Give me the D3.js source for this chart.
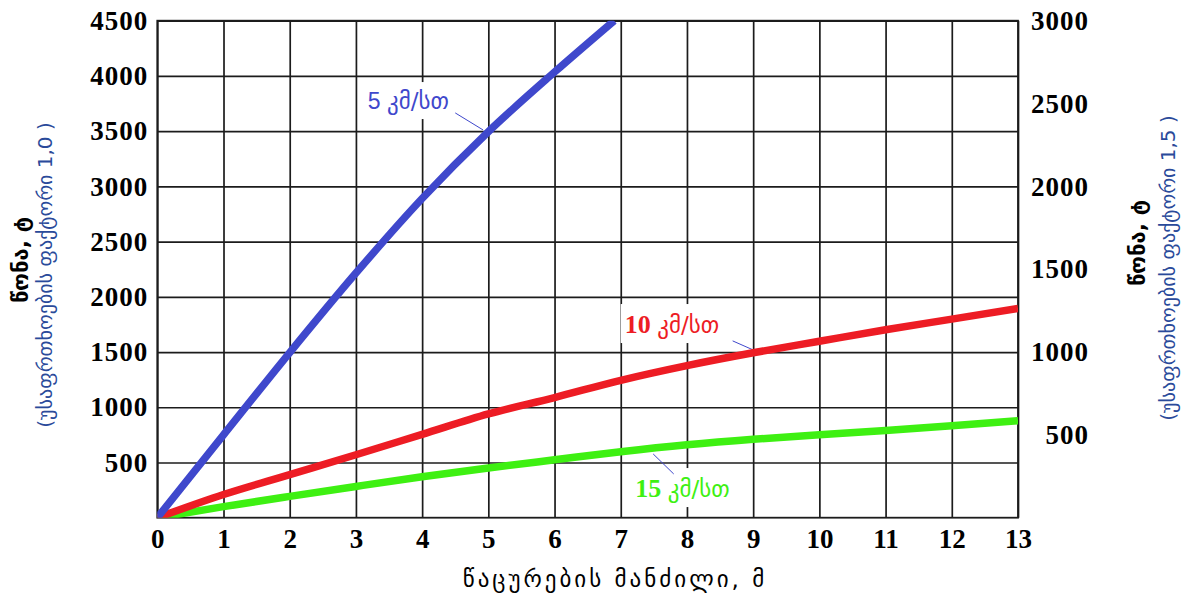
<!DOCTYPE html>
<html>
<head>
<meta charset="utf-8">
<script src="https://cdn.jsdelivr.net/npm/d3@7"></script>
<style>
  html, body { margin: 0; padding: 0; background: #fff; }
  svg { display: block; }
</style>
</head>
<body>
<svg id="chart" width="1183" height="595"></svg>
<script>
// ---------------- DATA ----------------
const distance = [0, 1, 2, 3, 4, 5, 6, 7, 8, 9, 10, 11, 12, 13];            // m
const blueDistance = [0, 1, 2, 3, 4, 5, 6, 6.9];
const weight5kmh  = [0, 750, 1495, 2215, 2890, 3495, 4035, 4500];          // t (factor 1.0)
const weight10kmh = [0, 210, 390, 570, 755, 940, 1088, 1244, 1377, 1493, 1598, 1702, 1798, 1894];
const weight15kmh = [0, 100, 193, 283, 370, 450, 524, 597, 660, 710, 750, 790, 832, 878];

const xTicks = [0, 1, 2, 3, 4, 5, 6, 7, 8, 9, 10, 11, 12, 13];
const leftTicks = [500, 1000, 1500, 2000, 2500, 3000, 3500, 4000, 4500];
const rightTicks = [500, 1000, 1500, 2000, 2500, 3000];

const seriesNames = ["5 კმ/სთ", "10 კმ/სთ", "15 კმ/სთ"];
const seriesColors = ["#3f48cc", "#ed1c24", "#3ef012"];
// label anchor (data coords) and leader line (data coords)
const labelPos = [[3.18, 3700], [7.06, 1672], [7.22, 187]];
const leaderLines = [[[4.50, 3665], [4.92, 3511]], [[8.69, 1601], [9.0, 1519]], [[7.49, 577], [7.80, 396]]];

const xTitle = "წაცურების მანძილი, მ";
const yTitle = "წონა, ტ";
const yLeftSub = "(უსაფრთხოების ფაქტორი 1,0 )";
const yRightSub = "(უსაფრთხოების ფაქტორი 1,5 )";

// ---------------- LAYOUT ----------------
const svg = d3.select("#chart");
const L = 157.3, R = 1018, T = 20.7, B = 517.7;
const x = d3.scaleLinear().domain([0, 13]).range([L, R]);
const y = d3.scaleLinear().domain([0, 4500]).range([B, T]);
const yR = d3.scaleLinear().domain([0, 3000]).range([B, T]);

const gridColor = "#1c1c1c";
const tickFont = "'Liberation Serif', 'Times New Roman', serif";
const fmt = d3.format("d");

// vertical grid + bottom axis
const gx = svg.append("g").attr("transform", `translate(0,${B})`)
  .call(d3.axisBottom(x).tickValues(xTicks).tickFormat(fmt).tickSize(-(B - T)).tickPadding(11).tickSizeOuter(0));
gx.select(".domain").remove();
gx.selectAll(".tick line").attr("stroke", gridColor).attr("stroke-width", 1.7);
gx.selectAll(".tick text").attr("font-family", tickFont).attr("font-weight", "bold")
  .attr("font-size", 27).attr("fill", "#000");

// horizontal grid + left axis
const gy = svg.append("g").attr("transform", `translate(${L},0)`)
  .call(d3.axisLeft(y).tickValues(leftTicks).tickFormat(fmt).tickSize(-(R - L)).tickPadding(9).tickSizeOuter(0));
gy.select(".domain").remove();
gy.selectAll(".tick line").attr("stroke", gridColor).attr("stroke-width", 1.7);
gy.selectAll(".tick text").attr("font-family", tickFont).attr("font-weight", "bold")
  .attr("font-size", 27).attr("letter-spacing", 1).attr("fill", "#000");

// right axis (labels only)
const gr = svg.append("g").attr("transform", `translate(${R},0)`)
  .call(d3.axisRight(yR).tickValues(rightTicks).tickFormat(fmt).tickSize(0).tickPadding(71).tickSizeOuter(0));
gr.select(".domain").remove();
gr.selectAll(".tick text").attr("text-anchor", "end").attr("font-family", tickFont).attr("font-weight", "bold")
  .attr("font-size", 27).attr("letter-spacing", 1).attr("fill", "#000");

// frame
svg.append("rect").attr("x", L).attr("y", T).attr("width", R - L).attr("height", B - T)
  .attr("fill", "none").attr("stroke", gridColor).attr("stroke-width", 1.8);

// clip
svg.append("clipPath").attr("id", "plotclip").append("rect")
  .attr("x", L).attr("y", T).attr("width", R - L).attr("height", B - T);

// labels with white background (drawn before lines)
const labelG = svg.append("g");
labelPos.forEach((p, i) => {
  const t = labelG.append("text")
    .attr("x", x(p[0])).attr("y", y(p[1]))
    .attr("fill", seriesColors[i]).attr("font-size", 22);
  const parts = seriesNames[i].split(" ");
  if (i === 0) {
    t.append("tspan").attr("font-family", "'Liberation Sans', Arial, sans-serif").attr("font-size", 23).text(parts[0] + " ");
  } else {
    t.append("tspan").attr("font-family", tickFont).attr("font-weight", "bold").attr("font-size", 26).text(parts[0] + " ");
  }
  t.append("tspan").attr("font-family", "'DejaVu Sans', sans-serif").attr("font-size", 23).text(parts[1]);
  const bb = t.node().getBBox();
  labelG.insert("rect", "text").attr("x", bb.x - 4).attr("y", bb.y - 6)
    .attr("width", bb.width + 12).attr("height", bb.height + 10).attr("fill", "#fff");
});

// leader lines
svg.append("g").selectAll("line").data(leaderLines).join("line")
  .attr("x1", d => x(d[0][0])).attr("y1", d => y(d[0][1]))
  .attr("x2", d => x(d[1][0])).attr("y2", d => y(d[1][1]))
  .attr("stroke", "#3f48cc").attr("stroke-width", 1);

// series lines
const line = d3.line().x(d => x(d[0])).y(d => y(d[1])).curve(d3.curveMonotoneX);
const series = [
  d3.zip(blueDistance, weight5kmh),
  d3.zip(distance, weight10kmh),
  d3.zip(distance, weight15kmh)
];
const lineG = svg.append("g").attr("clip-path", "url(#plotclip)");
[2, 1, 0].forEach(i => {
  lineG.append("path").datum(series[i]).attr("d", line)
    .attr("fill", "none").attr("stroke", seriesColors[i]).attr("stroke-width", 7.5)
    .attr("stroke-linecap", "butt");
});

// axis titles
svg.append("text").attr("x", 615).attr("y", 587).attr("text-anchor", "middle")
  .attr("font-family", "'DejaVu Sans', sans-serif").attr("font-size", 23).attr("letter-spacing", 3)
  .attr("fill", "#000").text(xTitle);

function vTitle(cx, cy, txt, size, weight, color) {
  svg.append("text").attr("transform", `translate(${cx},${cy}) rotate(-90)`)
    .attr("text-anchor", "middle").attr("dy", "0.35em")
    .attr("font-family", "'DejaVu Sans', sans-serif").attr("font-size", size)
    .attr("font-weight", weight).attr("fill", color).text(txt);
}
vTitle(20, 260, yTitle, 22, "bold", "#000");
vTitle(45, 275, yLeftSub, 20, "normal", "#2a4a9a");
vTitle(1137, 243, yTitle, 22, "bold", "#000");
vTitle(1168, 268, yRightSub, 20, "normal", "#2a4a9a");
</script>
</body>
</html>
